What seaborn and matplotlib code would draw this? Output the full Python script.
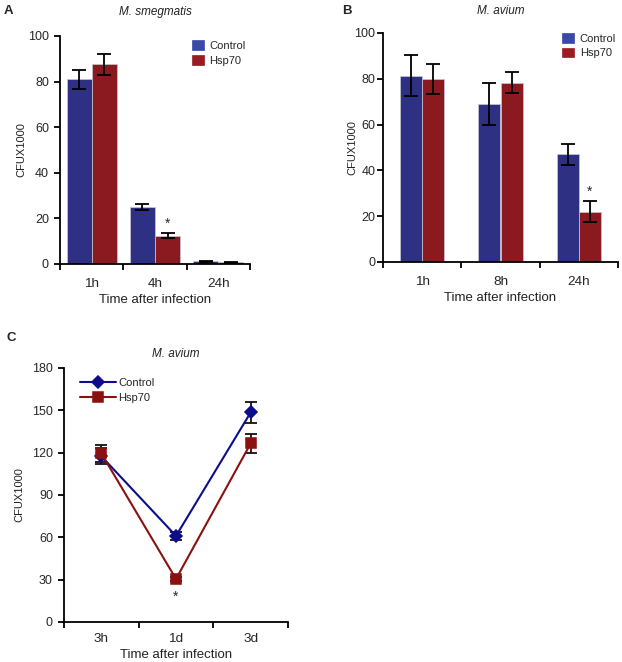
import numpy as np
import pandas as pd
import matplotlib
matplotlib.use('Agg')
import matplotlib.pyplot as plt
import seaborn as sns

sns.set_style('white')
plt.rcParams['font.family'] = ['Liberation Sans', 'DejaVu Sans']

groups = ['Control', 'Hsp70']

# panel A - M. smegmatis
times_a = ['1h', '4h', '24h']
ctrl_a = [81, 25, 1.2]
ctrl_a_err = [4.2, 1.4, 0.3]
hsp_a = [87.5, 12.5, 0.7]
hsp_a_err = [4.6, 1.0, 0.3]

# panel B - M. avium
times_b = ['1h', '8h', '24h']
ctrl_b = [81.3, 69, 47]
ctrl_b_err = [9, 9, 4.5]
hsp_b = [79.8, 78.3, 22]
hsp_b_err = [6.5, 4.5, 4.5]

# panel C - M. avium time course
times_c = ['3h', '1d', '3d']
ctrl_c = [117.5, 61, 148.5]
ctrl_c_err = [5.5, 3, 7.5]
hsp_c = [119.5, 30.5, 126.5]
hsp_c_err = [6, 1.5, 6.5]

bar_cols = {'Control': '#2e3083', 'Hsp70': '#8b1a20'}
leg_cols = {'Control': '#3a49a8', 'Hsp70': '#9a1c22'}
line_cols = {'Control': '#0d0d8c', 'Hsp70': '#8b1010'}

W, H = 622, 662
fig = plt.figure(figsize=(W / 100, H / 100), dpi=100)


def px_axes(l, t, r, b):
    return fig.add_axes([l / W, 1 - b / H, (r - l) / W, (b - t) / H])


def style_axes(ax, cats, ymax, ystep, ylab_x, ypad=4):
    for s in ['top', 'right']:
        ax.spines[s].set_visible(False)
    for s in ['left', 'bottom']:
        ax.spines[s].set_color('black')
        ax.spines[s].set_linewidth(1.3)
    ax.set_xlim(-0.5, len(cats) - 0.5)
    ax.set_ylim(0, ymax)
    ax.set_yticks(np.arange(0, ymax + 1, ystep))
    ax.set_xticks(np.arange(-0.5, len(cats), 1.0))
    ax.set_xticklabels([])
    ax.set_xticks(np.arange(len(cats)), minor=True)
    ax.set_xticklabels(cats, minor=True)
    ax.tick_params(axis='x', which='major', direction='out', length=4, width=1.3,
                   color='black', bottom=True)
    ax.tick_params(axis='x', which='minor', length=0, labelsize=9.7, pad=10)
    ax.tick_params(axis='y', direction='out', length=4, width=1.3, color='black',
                   left=True, labelsize=9, pad=ypad)
    ax.set_xlabel('Time after infection', fontsize=9.5, labelpad=3, color='#222222')
    ax.set_ylabel('CFUX1000', fontsize=8, color='#222222')
    ax.yaxis.set_label_coords(ylab_x, 0.5)


def bar_panel(ax, cats, ctrl, ctrl_err, hsp, hsp_err, width, legend_loc):
    df = pd.DataFrame({
        'time': cats * 2,
        'group': ['Control'] * len(cats) + ['Hsp70'] * len(cats),
        'value': ctrl + hsp,
    })
    sns.barplot(data=df, x='time', y='value', hue='group', order=cats,
                hue_order=groups, palette=bar_cols, width=width, ax=ax,
                edgecolor='#c8c8d8', linewidth=0.5, errorbar=None, saturation=1)
    errs = [ctrl_err, hsp_err]
    vals = [ctrl, hsp]
    bars = list(ax.containers)
    for i, cont in enumerate(bars):
        xs = [p.get_x() + p.get_width() / 2 for p in cont.patches]
        ax.errorbar(xs, vals[i], yerr=errs[i], fmt='none', ecolor='black',
                    elinewidth=1.3, capsize=5, capthick=1.3, zorder=5)
    leg = ax.legend(loc='upper right', bbox_to_anchor=legend_loc, frameon=False,
                    fontsize=8, handlelength=1.1, handleheight=1.0,
                    handletextpad=0.5, labelspacing=0.35, borderaxespad=0)
    for h, g in zip(leg.legend_handles, groups):
        h.set_facecolor(leg_cols[g])
        h.set_edgecolor(leg_cols[g])


# Panel A
ax_a = px_axes(60, 36, 250, 264)
bar_panel(ax_a, times_a, ctrl_a, ctrl_a_err, hsp_a, hsp_a_err, 0.79, (1.0, 1.0))
style_axes(ax_a, times_a, 100, 20, -0.175)
ax_a.text(1.2, 17.5, '*', ha='center', va='center', fontsize=10)
ax_a.set_title('M. smegmatis', fontsize=8.5, style='italic', color='#222222', pad=15)
fig.text(4 / W, 1 - 11 / H, 'A', fontsize=9.5, fontweight='bold', va='center')

# Panel B
ax_b = px_axes(383, 33, 618, 262)
bar_panel(ax_b, times_b, ctrl_b, ctrl_b_err, hsp_b, hsp_b_err, 0.57, (1.01, 1.02))
style_axes(ax_b, times_b, 100, 20, -0.11, ypad=1.5)
ax_b.text(2.14, 30.5, '*', ha='center', va='center', fontsize=10)
ax_b.set_title('M. avium', fontsize=8.5, style='italic', color='#222222', pad=14)
fig.text(342 / W, 1 - 11 / H, 'B', fontsize=9.5, fontweight='bold', va='center')

# Panel C
ax_c = px_axes(64, 368, 288, 622)
df_c = pd.DataFrame({
    'time': times_c * 2,
    'group': ['Control'] * 3 + ['Hsp70'] * 3,
    'value': ctrl_c + hsp_c,
})
sns.pointplot(data=df_c, x='time', y='value', hue='group', order=times_c,
              hue_order=groups, palette=line_cols, markers=['D', 's'],
              linestyles=['-', '-'], errorbar=None, ax=ax_c,
              markersize=6.5, linewidth=1.5)
for vals, errs in [(ctrl_c, ctrl_c_err), (hsp_c, hsp_c_err)]:
    ax_c.errorbar(range(3), vals, yerr=errs, fmt='none', ecolor='#111111',
                  elinewidth=1.3, capsize=4.5, capthick=1.3, zorder=1)
handles, labels = ax_c.get_legend_handles_labels()
ax_c.legend(handles, labels, loc='upper left', bbox_to_anchor=(0.05, 0.98),
            frameon=False, fontsize=8, handlelength=3.3, handletextpad=0.2,
            labelspacing=0.45, borderaxespad=0)
style_axes(ax_c, times_c, 180, 30, -0.178)
ax_c.tick_params(axis='x', which='minor', pad=8)
ax_c.text(1, 18, '*', ha='center', va='center', fontsize=10)
ax_c.set_title('M. avium', fontsize=8.5, style='italic', color='#222222', pad=8)
fig.text(6 / W, 1 - 338 / H, 'C', fontsize=9.5, fontweight='bold', va='center')

fig.savefig('out.png', dpi=100)
